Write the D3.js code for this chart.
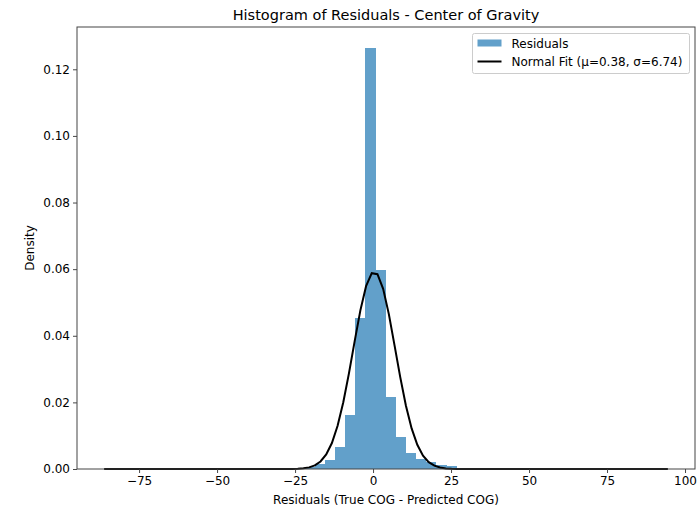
<!DOCTYPE html>
<html><head><meta charset="utf-8">
<script src="https://cdn.jsdelivr.net/npm/d3@7"></script>
<style>body{margin:0;background:#fff}svg{display:block}text{font-family:"DejaVu Sans",sans-serif;fill:#000}</style>
</head><body><svg id="c" width="699" height="510"></svg>
<script>
// Histogram bins (left edges, width) and densities
const binStart = -21.95;
const binWidth = 3.25;
const densities = [0.0005, 0.0015, 0.0027, 0.0066, 0.0162, 0.0454, 0.1264, 0.0596, 0.0217, 0.0097, 0.0048, 0.0031, 0.0021, 0.0011, 0.0008, 0.0003];
const binEdges = densities.map((d, i) => binStart + i * binWidth);
// Normal fit parameters (from legend) and data range
const mu = 0.38, sigma = 6.74;
const dataMin = -86.2, dataMax = 94.5;
const xTicks = [-75, -50, -25, 0, 25, 50, 75, 100];
const yTicks = [0, 0.02, 0.04, 0.06, 0.08, 0.10, 0.12];

const svg = d3.select("#c");
const L = 77, R = 695, T = 27, B = 469;
const x = d3.scaleLinear().domain([-94.9, 103.2]).range([L, R]);
const y = d3.scaleLinear().domain([0, 0.1327]).range([B, T]);

// bars
svg.append("g").attr("shape-rendering", "crispEdges").selectAll("rect").data(densities).join("rect")
  .attr("x", (d, i) => x(binEdges[i]))
  .attr("width", (d, i) => x(binEdges[i] + binWidth) - x(binEdges[i]))
  .attr("y", d => y(d))
  .attr("height", d => y(0) - y(d))
  .attr("fill", "#1f77b4").attr("fill-opacity", 0.7);

// normal fit curve
const N = 100;
const xs = d3.range(N).map(i => dataMin + (dataMax - dataMin) * i / (N - 1));
const pdf = v => Math.exp(-0.5 * ((v - mu) / sigma) ** 2) / (sigma * Math.sqrt(2 * Math.PI));
svg.append("path").datum(xs)
  .attr("d", d3.line().x(d => x(d)).y(d => y(pdf(d))))
  .attr("fill", "none").attr("stroke", "#000").attr("stroke-width", 2);

// axes
const fmtX = d => (d < 0 ? "\u2212" + Math.abs(d) : "" + d);
const gx = svg.append("g").attr("transform", `translate(0,${B})`)
  .call(d3.axisBottom(x).tickValues(xTicks).tickFormat(fmtX).tickSize(4).tickPadding(3));
const gy = svg.append("g").attr("transform", `translate(${L},0)`)
  .call(d3.axisLeft(y).tickValues(yTicks).tickFormat(d3.format(".2f")).tickSize(4).tickPadding(3));
[gx, gy].forEach(g => {
  g.select(".domain").remove();
  g.selectAll("line").attr("stroke", "#333").attr("stroke-width", 0.9);
  g.selectAll("text").style("font-size", "12px").attr("fill", "#000");
});
// frame
svg.append("rect").attr("x", L).attr("y", T).attr("width", R - L).attr("height", B - T)
  .attr("fill", "none").attr("stroke", "#444").attr("stroke-width", 1);

// title & labels
svg.append("text").attr("x", (L + R) / 2).attr("y", 20).attr("text-anchor", "middle")
  .style("font-size", "14.5px").text("Histogram of Residuals - Center of Gravity");
svg.append("text").attr("x", (L + R) / 2).attr("y", 504).attr("text-anchor", "middle")
  .style("font-size", "12px").text("Residuals (True COG - Predicted COG)");
svg.append("text").attr("transform", `translate(34,${(T + B) / 2}) rotate(-90)`).attr("text-anchor", "middle")
  .style("font-size", "12px").text("Density");

// legend
const lg = svg.append("g");
lg.append("rect").attr("x", 472.5).attr("y", 33.5).attr("width", 217).attr("height", 40).attr("rx", 2)
  .attr("fill", "#fff").attr("fill-opacity", 0.8).attr("stroke", "#ccc").attr("stroke-width", 1);
lg.append("rect").attr("x", 477.5).attr("y", 39.5).attr("width", 24).attr("height", 7)
  .attr("fill", "#1f77b4").attr("fill-opacity", 0.7);
lg.append("text").attr("x", 511.5).attr("y", 47.5).style("font-size", "12px").text("Residuals");
lg.append("line").attr("x1", 477.5).attr("x2", 501.5).attr("y1", 61.5).attr("y2", 61.5)
  .attr("stroke", "#000").attr("stroke-width", 2);
lg.append("text").attr("x", 511.5).attr("y", 66).style("font-size", "12px").text("Normal Fit (\u03bc=0.38, \u03c3=6.74)");
</script></body></html>
